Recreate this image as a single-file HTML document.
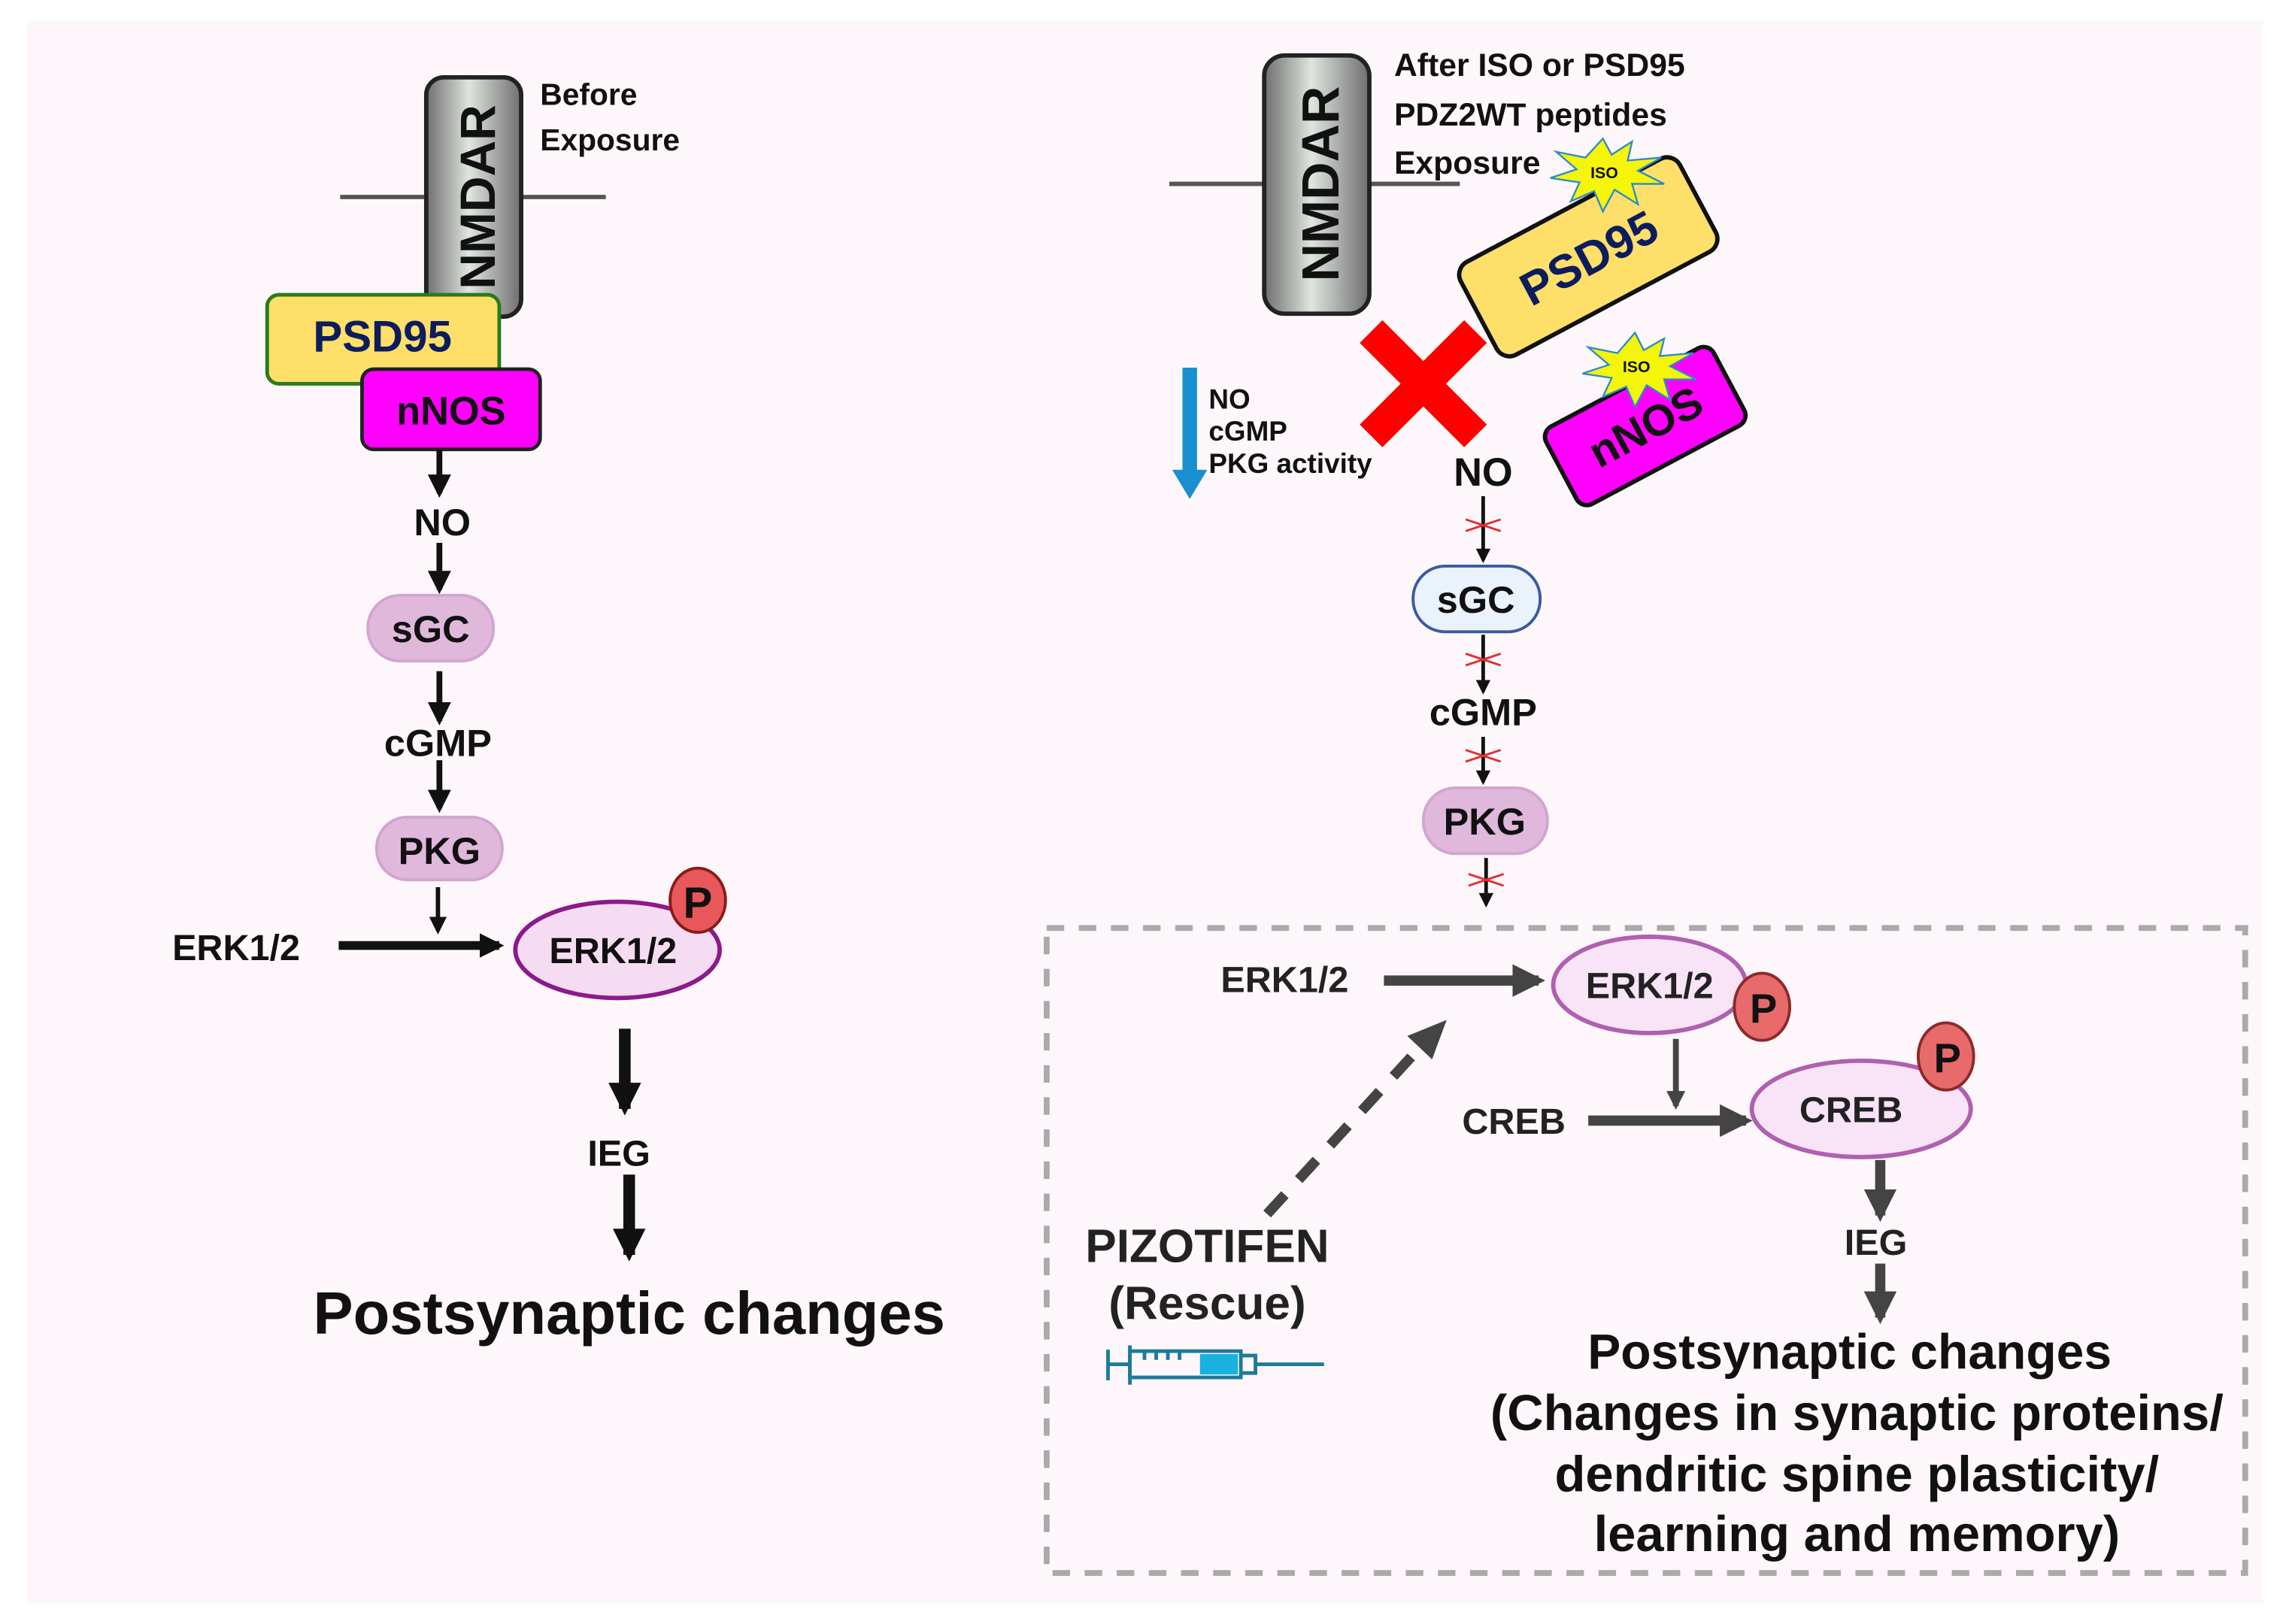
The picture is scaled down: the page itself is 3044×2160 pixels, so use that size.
<!DOCTYPE html>
<html><head><meta charset="utf-8"><style>
html,body{margin:0;padding:0;background:#fff;}
svg{display:block;}
text{font-family:"Liberation Sans",sans-serif;font-weight:bold;}
</style></head><body>
<svg width="3044" height="2160" viewBox="0 0 1568 1113" preserveAspectRatio="none" xmlns="http://www.w3.org/2000/svg">
<defs>
<linearGradient id="g" x1="0" x2="1" y1="0" y2="0">
<stop offset="0" stop-color="#6e6e6e"/><stop offset="0.45" stop-color="#dfe5df"/><stop offset="1" stop-color="#6e6e6e"/>
</linearGradient>
<marker id="ah" viewBox="0 0 10 10" refX="8" refY="5" markerWidth="4" markerHeight="4" orient="auto"><path d="M0,0 L10,5 L0,10 z" fill="#111"/></marker>
<marker id="ahg" viewBox="0 0 10 10" refX="8" refY="5" markerWidth="3.2" markerHeight="3.2" orient="auto"><path d="M0,0 L10,5 L0,10 z" fill="#444"/></marker>
<marker id="ahk" viewBox="0 0 10 10" refX="8" refY="5" markerWidth="2.8" markerHeight="2.8" orient="auto"><path d="M0,0 L10,5 L0,10 z" fill="#111"/></marker>
</defs>
<rect x="0" y="0" width="1568" height="1113" fill="#fff"/>
<rect x="18" y="14" width="1532" height="1085" fill="#fdf7fc"/>

<!-- LEFT -->
<line x1="233" y1="135" x2="415" y2="135" stroke="#555" stroke-width="3"/>
<rect x="292" y="53" width="65" height="164" rx="12" fill="url(#g)" stroke="#222" stroke-width="3"/>
<text transform="translate(339,135) rotate(-90)" text-anchor="middle" font-size="34" fill="#111">NMDAR</text>
<text x="370" y="72" font-size="21" fill="#111">Before</text>
<text x="370" y="103" font-size="21" fill="#111">Exposure</text>
<rect x="183" y="202" width="159" height="61" rx="8" fill="#fddf6a" stroke="#2a7a1a" stroke-width="2.5"/>
<text x="262" y="241" text-anchor="middle" font-size="30" fill="#0d1c5e">PSD95</text>
<rect x="248" y="253" width="122" height="55" rx="8" fill="#ff00ff" stroke="#222" stroke-width="2.5"/>
<text x="309" y="291" text-anchor="middle" font-size="27" fill="#111">nNOS</text>
<line x1="301" y1="308" x2="301" y2="338" stroke="#111" stroke-width="4" marker-end="url(#ah)"/>
<text x="303" y="367" text-anchor="middle" font-size="26" fill="#111">NO</text>
<line x1="301" y1="372" x2="301" y2="404" stroke="#111" stroke-width="4" marker-end="url(#ah)"/>
<rect x="252" y="408" width="86" height="45" rx="22" fill="#e0b8dc" stroke="#d4a4d0" stroke-width="2"/>
<text x="295" y="440" text-anchor="middle" font-size="26" fill="#111">sGC</text>
<line x1="301" y1="460" x2="301" y2="494" stroke="#111" stroke-width="4" marker-end="url(#ah)"/>
<text x="300" y="518" text-anchor="middle" font-size="26" fill="#111">cGMP</text>
<line x1="301" y1="521" x2="301" y2="554" stroke="#111" stroke-width="4" marker-end="url(#ah)"/>
<rect x="258" y="560" width="86" height="43" rx="21" fill="#e0b8dc" stroke="#d4a4d0" stroke-width="2"/>
<text x="301" y="592" text-anchor="middle" font-size="26" fill="#111">PKG</text>
<line x1="300" y1="608" x2="300" y2="638" stroke="#111" stroke-width="3" marker-end="url(#ah)"/>
<text x="118" y="658" font-size="25" fill="#111">ERK1/2</text>
<line x1="232" y1="648" x2="342" y2="648" stroke="#111" stroke-width="6" marker-end="url(#ahk)"/>
<ellipse cx="423" cy="651" rx="70" ry="33" fill="#f6dcf2" stroke="#8b1a8b" stroke-width="3"/>
<text x="420" y="660" text-anchor="middle" font-size="25" fill="#111">ERK1/2</text>
<ellipse cx="478" cy="617" rx="19" ry="22" fill="#e8585a" stroke="#8a1a1a" stroke-width="2"/>
<text x="478" y="629" text-anchor="middle" font-size="30" fill="#111">P</text>
<line x1="428" y1="705" x2="428" y2="760" stroke="#111" stroke-width="8" marker-end="url(#ahk)"/>
<text x="424" y="799" text-anchor="middle" font-size="25" fill="#111">IEG</text>
<line x1="431" y1="805" x2="431" y2="860" stroke="#111" stroke-width="8" marker-end="url(#ahk)"/>
<text x="431" y="914" text-anchor="middle" font-size="41" fill="#111">Postsynaptic changes</text>

<!-- RIGHT -->
<line x1="801" y1="126" x2="1000" y2="126" stroke="#555" stroke-width="3"/>
<rect x="866" y="38" width="72" height="177" rx="14" fill="url(#g)" stroke="#222" stroke-width="3"/>
<text transform="translate(917,126) rotate(-90)" text-anchor="middle" font-size="36" fill="#111">NMDAR</text>
<text x="955" y="52" font-size="22" fill="#111">After ISO or PSD95</text>
<text x="955" y="86" font-size="22" fill="#111">PDZ2WT peptides</text>
<text x="955" y="119" font-size="22" fill="#111">Exposure</text>
<g transform="translate(1088,176) rotate(-28)">
<rect x="-85" y="-36" width="170" height="72" rx="10" fill="#fddf6a" stroke="#111" stroke-width="3"/>
<text x="0" y="12" text-anchor="middle" font-size="32" fill="#0d1c5e">PSD95</text>
</g>
<g transform="translate(1127,292) rotate(-28)">
<rect x="-65" y="-30" width="130" height="60" rx="8" fill="#ff00ff" stroke="#111" stroke-width="3"/>
<text x="0" y="11" text-anchor="middle" font-size="30" fill="#111">nNOS</text>
</g>
<polygon points="1098,95 1104,106 1118,97 1115,110 1138,108 1122,117 1140,126 1118,126 1122,140 1106,130 1098,145 1092,131 1076,138 1082,125 1062,122 1080,116 1066,104 1086,108" fill="#f5f50a" stroke="#2a8ad0" stroke-width="1.2"/>
<text x="1099" y="122" text-anchor="middle" font-size="11" fill="#111">ISO</text>
<polygon points="1120,228 1126,240 1140,232 1137,244 1160,242 1144,251 1162,260 1140,260 1144,274 1128,264 1120,279 1114,265 1098,272 1104,259 1084,256 1102,250 1088,238 1108,242" fill="#f5f50a" stroke="#2a8ad0" stroke-width="1.2"/>
<text x="1121" y="255" text-anchor="middle" font-size="11" fill="#111">ISO</text>
<g stroke="#ff0000" stroke-width="22" stroke-linecap="square">
<line x1="947" y1="235" x2="1003" y2="291"/><line x1="1003" y1="235" x2="947" y2="291"/>
</g>
<line x1="815" y1="252" x2="815" y2="326" stroke="#1a8fd0" stroke-width="10"/>
<polygon points="803,322 827,322 815,342" fill="#1a8fd0"/>
<text x="828" y="280" font-size="19" fill="#111">NO</text>
<text x="828" y="302" font-size="19" fill="#111">cGMP</text>
<text x="828" y="324" font-size="19" fill="#111">PKG activity</text>
<text x="1016" y="333" text-anchor="middle" font-size="27" fill="#111">NO</text>
<g stroke="#111" stroke-width="2.5">
<line x1="1016" y1="340" x2="1016" y2="384" marker-end="url(#ah)"/>
<line x1="1016" y1="435" x2="1016" y2="474" marker-end="url(#ah)"/>
<line x1="1016" y1="505" x2="1016" y2="536" marker-end="url(#ah)"/>
<line x1="1018" y1="588" x2="1018" y2="620" marker-end="url(#ah)"/>
</g>
<g stroke="#e03030" stroke-width="1.5">
<path d="M1004,356 L1028,364 M1004,364 L1028,356"/>
<path d="M1004,448 L1028,456 M1004,456 L1028,448"/>
<path d="M1004,514 L1028,522 M1004,522 L1028,514"/>
<path d="M1006,599 L1030,607 M1006,607 L1030,599"/>
</g>
<rect x="968" y="388" width="87" height="45" rx="22" fill="#eaf2fc" stroke="#3c5aa0" stroke-width="2"/>
<text x="1011" y="420" text-anchor="middle" font-size="26" fill="#111">sGC</text>
<text x="1016" y="497" text-anchor="middle" font-size="26" fill="#111">cGMP</text>
<rect x="975" y="540" width="85" height="45" rx="22" fill="#e0b8dc" stroke="#d4a4d0" stroke-width="2"/>
<text x="1017" y="572" text-anchor="middle" font-size="26" fill="#111">PKG</text>

<rect x="717" y="636" width="821" height="442" fill="none" stroke="#aaa" stroke-width="4" stroke-dasharray="12 10"/>
<text x="880" y="680" text-anchor="middle" font-size="25" fill="#222">ERK1/2</text>
<line x1="948" y1="672" x2="1054" y2="672" stroke="#444" stroke-width="7" marker-end="url(#ahg)"/>
<ellipse cx="1130" cy="675" rx="66" ry="33" fill="#f8e4f6" stroke="#b060b0" stroke-width="3"/>
<text x="1130" y="684" text-anchor="middle" font-size="25" fill="#222">ERK1/2</text>
<ellipse cx="1207" cy="690" rx="19" ry="23" fill="#e86a6a" stroke="#8a2a2a" stroke-width="2"/>
<text x="1208" y="701" text-anchor="middle" font-size="28" fill="#111">P</text>
<line x1="1148" y1="712" x2="1148" y2="758" stroke="#444" stroke-width="4" marker-end="url(#ahg)"/>
<text x="1037" y="777" text-anchor="middle" font-size="25" fill="#222">CREB</text>
<line x1="1088" y1="768" x2="1196" y2="768" stroke="#444" stroke-width="7" marker-end="url(#ahg)"/>
<ellipse cx="1275" cy="760" rx="75" ry="33" fill="#f8e4f6" stroke="#b060b0" stroke-width="3"/>
<text x="1268" y="769" text-anchor="middle" font-size="25" fill="#222">CREB</text>
<ellipse cx="1333" cy="724" rx="19" ry="23" fill="#e86a6a" stroke="#8a2a2a" stroke-width="2"/>
<text x="1334" y="735" text-anchor="middle" font-size="28" fill="#111">P</text>
<line x1="1288" y1="795" x2="1288" y2="833" stroke="#444" stroke-width="7" marker-end="url(#ahg)"/>
<text x="1285" y="860" text-anchor="middle" font-size="25" fill="#222">IEG</text>
<line x1="1288" y1="866" x2="1288" y2="903" stroke="#444" stroke-width="7" marker-end="url(#ahg)"/>
<g fill="#111" text-anchor="middle">
<text x="1267" y="938" font-size="34">Postsynaptic changes</text>
<text x="1272" y="980" font-size="34.5">(Changes in synaptic proteins/</text>
<text x="1272" y="1022" font-size="34.5">dendritic spine plasticity/</text>
<text x="1272" y="1063" font-size="34.5">learning and memory)</text>
</g>
<line x1="868" y1="832" x2="978" y2="712" stroke="#444" stroke-width="7" stroke-dasharray="18 14"/>
<polygon points="991,699 964,710 981,726" fill="#444"/>
<text x="827" y="865" text-anchor="middle" font-size="32" fill="#222">PIZOTIFEN</text>
<text x="827" y="904" text-anchor="middle" font-size="32" fill="#222" font-weight="normal">(Rescue)</text>
<g stroke="#1e7a9a" stroke-width="2.5" fill="none">
<line x1="759" y1="925" x2="759" y2="946"/><line x1="759" y1="935" x2="774" y2="935"/>
<line x1="774" y1="922" x2="774" y2="949"/>
<rect x="774" y="926" width="76" height="18"/>
<path d="M850,929 L860,929 L860,941 L850,941"/><line x1="860" y1="935" x2="907" y2="935"/>
<line x1="784" y1="926" x2="784" y2="932"/><line x1="792" y1="926" x2="792" y2="932"/><line x1="800" y1="926" x2="800" y2="932"/><line x1="808" y1="926" x2="808" y2="932"/>
</g>
<rect x="822" y="928" width="26" height="14" fill="#1ab0e0"/>
</svg>
</body></html>
